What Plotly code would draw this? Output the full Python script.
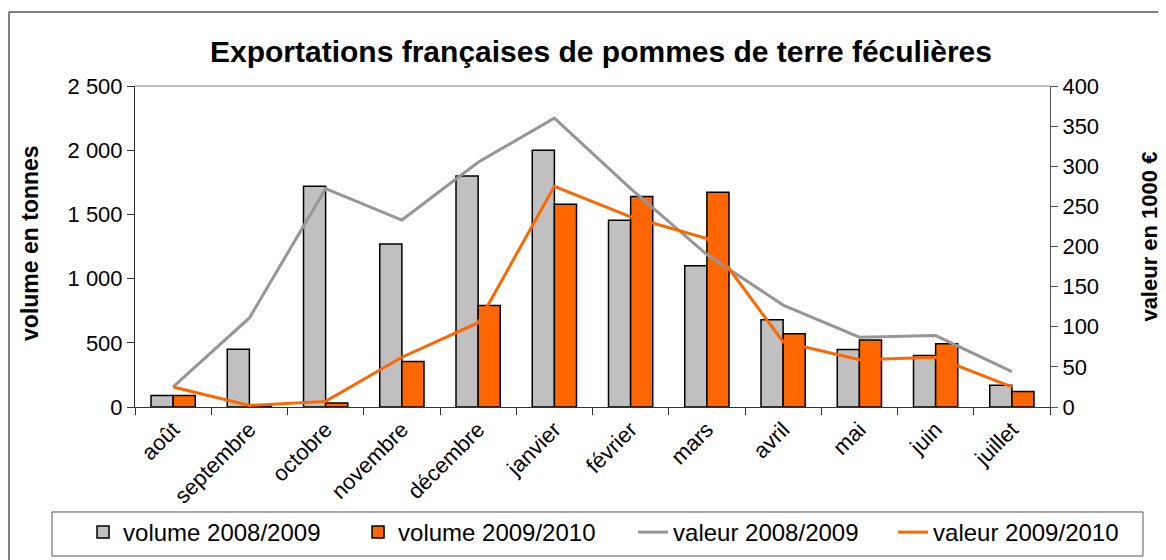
import plotly.graph_objects as go

# ----------------------------------------------------------------------
# Data
# ----------------------------------------------------------------------
months = ['août', 'septembre', 'octobre', 'novembre', 'décembre', 'janvier',
          'février', 'mars', 'avril', 'mai', 'juin', 'juillet']

# volume (tonnes), left axis
volume_2008_2009 = [90, 450, 1720, 1270, 1800, 2000, 1455, 1100, 680, 447, 402, 170]
volume_2009_2010 = [90, 5, 32, 355, 790, 1580, 1640, 1672, 570, 522, 493, 120]

# value (1000 €), right axis
valeur_2008_2009 = [25, 111, 272, 233, 305, 360, 272, 190, 127, 87, 89, 44]
valeur_2009_2010 = [25, 2, 7, 62, 105, 275, 237, 210, 81, 59, 62, 25]

left_ticks = [0, 500, 1000, 1500, 2000, 2500]
left_tick_labels = ['0', '500', '1 000', '1 500', '2 000', '2 500']
right_ticks = [0, 50, 100, 150, 200, 250, 300, 350, 400]

GREY_BAR = '#C0C0C0'
ORANGE = '#FF6600'
GREY_LINE = '#969696'
FONT = 'Liberation Sans, Arial, sans-serif'

fig = go.Figure()

fig.add_trace(go.Bar(
    x=months, y=volume_2008_2009, name='volume 2008/2009', legend='legend',
    marker=dict(color=GREY_BAR, line=dict(color='black', width=1.5))
))
fig.add_trace(go.Bar(
    x=months, y=volume_2009_2010, name='volume 2009/2010', legend='legend',
    marker=dict(color=ORANGE, line=dict(color='black', width=1.5))
))
fig.add_trace(go.Scatter(
    x=months, y=valeur_2008_2009, name='valeur 2008/2009', yaxis='y2',
    legend='legend2', mode='lines', line=dict(color=GREY_LINE, width=3)
))
fig.add_trace(go.Scatter(
    x=months, y=valeur_2009_2010, name='valeur 2009/2010', yaxis='y2',
    legend='legend2', mode='lines', line=dict(color=ORANGE, width=3)
))

# the page body adds an 8px offset, so the figure is 8px smaller
fig.update_layout(
    width=1158, height=552,
    margin=dict(l=127, r=116, t=78, b=153, autoexpand=False),
    paper_bgcolor='white', plot_bgcolor='white',
    font=dict(family=FONT, size=22, color='black'),
    barmode='group', bargap=0.42, bargroupgap=0,
    title=dict(
        text='<b>Exportations françaises de pommes de terre féculières</b>',
        xref='container', x=0.5121, xanchor='center',
        yref='container', y=0.9203, yanchor='middle',
        font=dict(family=FONT, size=30, color='black')
    ),
    xaxis=dict(
        tickangle=-45, ticks='outside', ticklen=7, tickson='boundaries',
        tickcolor='#333', showline=True, linecolor='#333', linewidth=1,
        showgrid=False, tickfont=dict(size=22)
    ),
    yaxis=dict(
        range=[0, 2500], tickvals=left_ticks, ticktext=left_tick_labels,
        ticks='outside', ticklen=7, tickcolor='#333',
        showline=True, linecolor='#333', linewidth=1, showgrid=False,
        zeroline=False
    ),
    yaxis2=dict(
        range=[0, 400], tickvals=right_ticks, overlaying='y', side='right',
        ticks='outside', ticklen=7, tickcolor='#555',
        showline=True, linecolor='#555', linewidth=1, showgrid=False,
        zeroline=False
    ),
    legend=dict(
        orientation='h', x=-0.0568, xanchor='left', y=-0.3209, yanchor='top',
        borderwidth=0, entrywidth=230, font=dict(size=24),
        traceorder='normal', bgcolor='rgba(0,0,0,0)'
    ),
    legend2=dict(
        orientation='h', x=0.5443, xanchor='left', y=-0.3209, yanchor='top',
        borderwidth=0, entrywidth=215, font=dict(size=24),
        traceorder='normal', bgcolor='rgba(0,0,0,0)'
    ),
    annotations=[
        dict(text='<b>volume en tonnes</b>', textangle=-90,
             xref='paper', yref='paper', x=-0.1148, y=0.511,
             xanchor='center', yanchor='middle', showarrow=False,
             font=dict(size=23)),
        dict(text='<b>valeur en 1000 €</b>', textangle=-90,
             xref='paper', yref='paper', x=1.109, y=0.53,
             xanchor='center', yanchor='middle', showarrow=False,
             font=dict(size=22)),
    ],
    shapes=[
        # grey top edge of plot area
        dict(type='line', xref='paper', yref='paper', x0=0, x1=1, y0=1, y1=1,
             line=dict(color='#808080', width=1)),
        # legend box
        dict(type='rect', xref='paper', yref='paper',
             x0=-0.0907, x1=1.1016, y0=-0.4642, y1=-0.3271,
             line=dict(color='#555', width=1)),
        # outer chart border
        dict(type='rect', xref='paper', yref='paper',
             x0=-0.1377, x1=1.1257, y0=-0.5, y1=1.2305,
             line=dict(color='black', width=1)),
    ]
)

fig.write_html('out.html')
